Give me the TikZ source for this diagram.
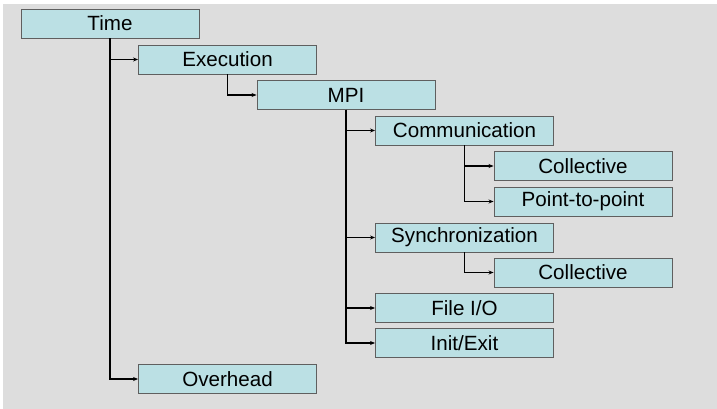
\documentclass[tikz,border=0pt]{standalone}
\usepackage{fontspec}
\setmainfont{Liberation Sans}
\usetikzlibrary{arrows.meta}
\definecolor{boxfill}{RGB}{187,224,228}
\definecolor{boxedge}{RGB}{95,95,95}
\definecolor{backgray}{RGB}{221,221,221}
\tikzset{
	metric/.style={draw=boxedge, fill=boxfill, line width=0.9pt, minimum width=178pt, minimum height=29pt, inner sep=0pt, font=\fontsize{20.6}{23}\selectfont},
	link/.style={line width=1.4pt, -{Stealth[length=5pt,width=4pt]}}
}
\begin{document}
\begin{tikzpicture}[x=1pt, y=-1pt]
			%%%%% START %%%%%
			
			\useasboundingbox (0, 0) rectangle (717, 409);
			\fill[backgray] (3, 4) rectangle (717, 409);
			
			\node[metric] (time) at (110, 23.5) {Time};
			\node[metric] (exec) at (227.5, 59.5) {Execution};
			\node[metric] (mpi) at (346, 95) {MPI};
			
			\node[metric] (comm) at (464.5, 130.5) {Communication};
			\node[metric] (commcoll) at (583, 166) {Collective};
			\node[metric] (p2p) at (583, 201.5) {Point-to-point};
			
			\node[metric] (sync) at (464.5, 237.5) {Synchronization};
			\node[metric] (synccoll) at (583, 272.5) {Collective};
			
			\node[metric] (fileio) at (464.5, 308) {File I/O};
			\node[metric] (init) at (464.5, 343) {Init/Exit};
			
			\node[metric] (ovh) at (227.5, 379) {Overhead};
			
			\draw[link] (time.south) |- (exec.west);
			\draw[link] (time.south) |- (ovh.west);
			\draw[link] (exec.south) |- (mpi.west);
			
			\draw[link] (mpi.south) |- (comm.west);
			\draw[link] (mpi.south) |- (sync.west);
			\draw[link] (mpi.south) |- (fileio.west);
			\draw[link] (mpi.south) |- (init.west);
			
			\draw[link] (comm.south) |- (commcoll.west);
			\draw[link] (comm.south) |- (p2p.west);
			\draw[link] (sync.south) |- (synccoll.west);
			
			%%%%% END %%%%%
\end{tikzpicture}
\end{document}
